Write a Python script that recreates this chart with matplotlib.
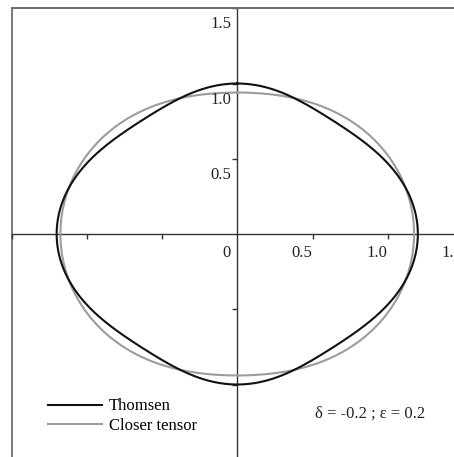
import numpy as np
import matplotlib
matplotlib.use("Agg")
import matplotlib.pyplot as plt
from matplotlib.patches import Rectangle

plt.rcParams["font.family"] = ["Liberation Serif", "DejaVu Serif"]

# Thomsen weak-anisotropy parameters
vp0 = 1.0
delta = -0.2
epsilon = 0.2

# Closest elliptical tensor: vertical / horizontal phase velocities
v_vert = 0.94
v_horz = 1.175

# Axis ticks and the labelled subset
tick_values = [-1.5, -1.0, -0.5, 0.5, 1.0, 1.5]
x_label_values = [0.0, 0.5, 1.0, 1.5]
x_label_texts = ["0", "0.5", "1.0", "1.5"]
y_label_values = [0.5, 1.0, 1.5]
y_label_texts = ["0.5", "1.0", "1.5"]

series_names = ["Thomsen", "Closer tensor"]
series_colors = ["#111111", "#9c9c9c"]

theta = np.linspace(0.0, 2.0 * np.pi, 1441)
s2 = np.sin(theta) ** 2
c2 = np.cos(theta) ** 2
v_thomsen = vp0 * (1.0 + delta * s2 * c2 + epsilon * s2 ** 2)
v_closer = np.sqrt(v_horz ** 2 * s2 + v_vert ** 2 * c2)

W, H = 454, 457
fig = plt.figure(figsize=(W / 100, H / 100), dpi=100)
ax = fig.add_axes([11.5 / W, (H - 459.75) / H, 451.5 / W, 451.5 / H])
ax.set_xlim(-1.5, 1.5)
ax.set_ylim(-1.5, 1.5)

ax.plot(v_closer * np.sin(theta), v_closer * np.cos(theta),
        color=series_colors[1], lw=1.5, label=series_names[1], zorder=3)
ax.plot(v_thomsen * np.sin(theta), v_thomsen * np.cos(theta),
        color=series_colors[0], lw=1.5, label=series_names[0], zorder=4)

# Cross-shaped axes through the origin
axis_color = "#333333"
for side in ["left", "bottom"]:
    ax.spines[side].set_position(("data", 0))
    ax.spines[side].set_color(axis_color)
    ax.spines[side].set_linewidth(1.0)
for side in ["top", "right"]:
    ax.spines[side].set_color("#6e6e6e")
    ax.spines[side].set_linewidth(1.3)
# Outer frame on the left and bottom edges
ax.add_patch(Rectangle((0, 0), 1, 1, transform=ax.transAxes, fill=False,
                       edgecolor="#6e6e6e", lw=1.3, clip_on=False, zorder=1))

ax.xaxis.set_ticks_position("bottom")
ax.yaxis.set_ticks_position("left")
ax.set_xticks(tick_values)
ax.set_yticks(tick_values)
ax.set_xticklabels([])
ax.set_yticklabels([])
ax.tick_params(direction="out", length=3.5, width=1.0, color=axis_color)

for v, t in zip(x_label_values, x_label_texts):
    ax.annotate(t, xy=(v, 0), xytext=(-11, -19), textcoords="offset pixels",
                ha="center", va="center", fontsize=12, color="#222222",
                annotation_clip=False)
for v, t in zip(y_label_values, y_label_texts):
    ax.annotate(t, xy=(0, v), xytext=(-6, -16), textcoords="offset pixels",
                ha="right", va="center", fontsize=12, color="#222222",
                annotation_clip=False)

handles, labels = ax.get_legend_handles_labels()
order = [1, 0]
ax.legend([handles[i] for i in order], [labels[i] for i in order],
          loc="upper left", bbox_to_anchor=(47.5 / W, 1 - 398.5 / H),
          bbox_transform=fig.transFigure, frameon=False, fontsize=12,
          handlelength=3.25, handletextpad=0.42, labelspacing=0.2,
          borderpad=0, borderaxespad=0)

fig.text(315 / W, 1 - 414 / H, "δ = -0.2 ; ε = 0.2", fontsize=12,
         ha="left", va="center", color="#222222")

fig.savefig("out.png", dpi=100)
